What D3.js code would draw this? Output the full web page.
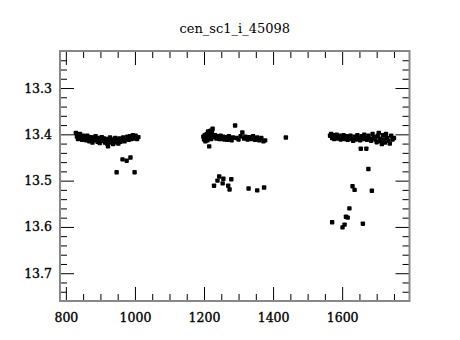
<!DOCTYPE html>
<html>
<head>
<meta charset="utf-8">
<script src="https://cdn.jsdelivr.net/npm/d3@7"></script>
<style>
  body { margin: 0; background: #fff; }
  svg text { font-family: "DejaVu Serif", serif; }
</style>
</head>
<body>
<svg id="lc"></svg>
<script>
// light curve data, three seasons (time, magnitude)
const season1Time = [829, 832, 835, 838, 841, 844, 847, 850, 853, 856, 859, 862, 865, 868, 871, 874, 877, 880, 883, 886,
  889, 892, 895, 898, 901, 904, 907, 910, 913, 916, 919, 922, 925, 928, 931, 934, 937, 940, 943, 946,
  949, 952, 955, 958, 962, 966, 970, 974, 978, 982, 986, 990, 994, 998, 1002, 1006, 1010,
  947, 964, 976, 987, 999];
const season1Mag = [13.397, 13.405, 13.410, 13.402, 13.399, 13.408, 13.412, 13.403, 13.410, 13.405, 13.413, 13.403, 13.409, 13.415, 13.406, 13.411, 13.418, 13.407, 13.413, 13.404,
  13.410, 13.416, 13.408, 13.419, 13.411, 13.406, 13.414, 13.409, 13.418, 13.410, 13.420, 13.426, 13.415, 13.407, 13.418, 13.411, 13.421, 13.413, 13.408, 13.417,
  13.412, 13.420, 13.409, 13.416, 13.412, 13.407, 13.415, 13.410, 13.405, 13.412, 13.404, 13.410, 13.402, 13.409, 13.403, 13.410, 13.406,
  13.482, 13.454, 13.457, 13.450, 13.482];

const season2Time = [1198, 1200, 1202, 1204, 1206, 1208, 1210, 1212, 1214, 1215, 1217, 1219, 1221, 1223, 1225, 1228, 1232, 1236, 1240, 1244,
  1248, 1252, 1256, 1260, 1264, 1268, 1272, 1276, 1280, 1284, 1290, 1294, 1300, 1306, 1311, 1316, 1320, 1326, 1330, 1336,
  1342, 1348, 1354, 1360, 1366, 1372, 1377, 1437,
  1229, 1239, 1244, 1256, 1254, 1270, 1274, 1279, 1329, 1354, 1374];
const season2Mag = [13.405, 13.411, 13.402, 13.415, 13.408, 13.399, 13.413, 13.394, 13.406, 13.426, 13.401, 13.392, 13.410, 13.397, 13.388, 13.406, 13.402, 13.409, 13.404, 13.410,
  13.403, 13.410, 13.405, 13.411, 13.406, 13.412, 13.404, 13.410, 13.413, 13.407, 13.381, 13.408, 13.411, 13.404, 13.396, 13.409, 13.405, 13.411, 13.406, 13.410,
  13.404, 13.412, 13.407, 13.413, 13.408, 13.415, 13.413, 13.407,
  13.511, 13.500, 13.491, 13.496, 13.506, 13.511, 13.519, 13.497, 13.517, 13.521, 13.515];

const season3Time = [1565, 1568, 1571, 1574, 1577, 1580, 1584, 1588, 1592, 1596, 1600, 1604, 1608, 1612, 1616, 1620, 1624, 1628, 1632, 1636,
  1640, 1644, 1648, 1652, 1656, 1660, 1664, 1668, 1672, 1676, 1680, 1684, 1688, 1692, 1696, 1700, 1703, 1706, 1709, 1712,
  1715, 1718, 1721, 1724, 1727, 1730, 1734, 1738, 1742, 1746, 1750,
  1654, 1670, 1676, 1630, 1636, 1686, 1621, 1611, 1616, 1571, 1607, 1601, 1660];
const season3Mag = [13.403, 13.399, 13.408, 13.402, 13.410, 13.405, 13.401, 13.409, 13.403, 13.411, 13.406, 13.402, 13.410, 13.404, 13.412, 13.407, 13.403, 13.410, 13.414, 13.405,
  13.411, 13.402, 13.409, 13.413, 13.404, 13.410, 13.401, 13.408, 13.412, 13.403, 13.409, 13.414, 13.399, 13.406, 13.411, 13.417, 13.403, 13.397, 13.410, 13.415,
  13.421, 13.402, 13.411, 13.418, 13.399, 13.408, 13.414, 13.420, 13.403, 13.411, 13.408,
  13.431, 13.431, 13.475, 13.512, 13.520, 13.522, 13.560, 13.578, 13.580, 13.590, 13.595, 13.601, 13.593];

const xTicks = [800, 1000, 1200, 1400, 1600];
const yTicks = [13.3, 13.4, 13.5, 13.6, 13.7];
const chartTitle = "cen_sc1_i_45098";

let points = [];
[[season1Time, season1Mag], [season2Time, season2Mag], [season3Time, season3Mag]].forEach(s => {
  s[0].forEach((t, i) => points.push({t: t, m: s[1][i]}));
});

let config = {svg: {width: 460, height: 340}, plot: {left: 60, right: 409.5, top: 51, bottom: 301}};

let svg = d3.select("#lc")
  .attr("width", config.svg.width)
  .attr("height", config.svg.height);

let x = d3.scaleLinear().domain([783, 1795]).range([config.plot.left, config.plot.right]);
// magnitudes: brighter at top
let y = d3.scaleLinear().domain([13.22, 13.76]).range([config.plot.top, config.plot.bottom]);

let major = 14, minor = 7;
let xMinor = d3.range(800, 1800, 50).filter(v => xTicks.indexOf(v) < 0);
let yMinor = d3.range(13.24, 13.75, 0.02).filter(v => yTicks.every(t => Math.abs(t - v) > 1e-6));

function addAxis(axis, tx, ty) {
  let g = svg.append("g").attr("transform", `translate(${tx},${ty})`).call(axis);
  g.select(".domain").remove();
  g.selectAll(".tick line").attr("stroke", "#000").attr("stroke-width", 1);
  return g;
}

function styleLabels(g) {
  g.selectAll("text")
    .style("font-size", "12.5px")
    .attr("fill", "#000")
    .attr("stroke", "#000")
    .attr("stroke-width", 0.35);
}

// bottom
styleLabels(addAxis(d3.axisBottom(x).tickValues(xTicks).tickSize(-major).tickPadding(12).tickFormat(d3.format("d")), 0, config.plot.bottom));
addAxis(d3.axisBottom(x).tickValues(xMinor).tickSize(-minor).tickFormat(""), 0, config.plot.bottom);
// top
addAxis(d3.axisTop(x).tickValues(xTicks).tickSize(-major).tickFormat(""), 0, config.plot.top);
addAxis(d3.axisTop(x).tickValues(xMinor).tickSize(-minor).tickFormat(""), 0, config.plot.top);
// left
styleLabels(addAxis(d3.axisLeft(y).tickValues(yTicks).tickSize(-major).tickPadding(8).tickFormat(d3.format(".1f")), config.plot.left, 0));
addAxis(d3.axisLeft(y).tickValues(yMinor).tickSize(-minor).tickFormat(""), config.plot.left, 0);
// right
addAxis(d3.axisRight(y).tickValues(yTicks).tickSize(-major).tickFormat(""), config.plot.right, 0);
addAxis(d3.axisRight(y).tickValues(yMinor).tickSize(-minor).tickFormat(""), config.plot.right, 0);

// frame
svg.append("rect")
  .attr("x", config.plot.left)
  .attr("y", config.plot.top)
  .attr("width", config.plot.right - config.plot.left)
  .attr("height", config.plot.bottom - config.plot.top)
  .attr("fill", "none")
  .attr("stroke", "#888")
  .attr("stroke-width", 2);

// points
svg.append("g")
  .selectAll("rect")
  .data(points)
  .enter()
  .append("rect")
  .attr("x", d => x(d.t) - 2.2)
  .attr("y", d => y(d.m) - 2.2)
  .attr("width", 4.4)
  .attr("height", 4.4)
  .attr("rx", 0.8)
  .attr("fill", "#000");

svg.append("text")
  .attr("x", (config.plot.left + config.plot.right) / 2)
  .attr("y", 33)
  .attr("text-anchor", "middle")
  .style("font-size", "13px")
  .text(chartTitle);
</script>
</body>
</html>
